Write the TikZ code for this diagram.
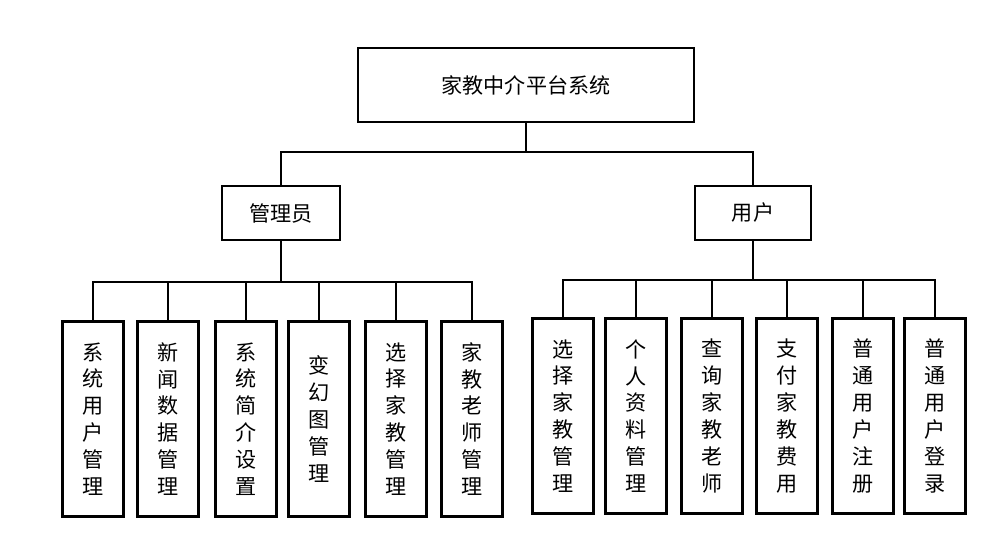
\documentclass[tikz,border=0pt]{standalone}
\usepackage{fontspec}
\newfontfamily\cjk{Noto Sans CJK SC}
\usetikzlibrary{positioning}
\begin{document}
\begin{tikzpicture}[
		x=0.02cm, y=-0.02cm,
		every node/.style={font=\cjk\fontsize{12}{15.3}\selectfont, align=center},
		box/.style={draw, line width=1.6pt, inner sep=0pt},
		leaf/.style={box, minimum width=1.22cm, minimum height=3.9cm},
		link/.style={line width=1.6pt}
		]
		\useasboundingbox (0,0) rectangle (1000,536);
		
		% Nodes
		\node[box, minimum width=6.72cm, minimum height=1.48cm] (root) at (526,85) {家教中介平台系统};
		\node[box, minimum width=2.36cm, minimum height=1.08cm] (admin) at (281,213) {管理员};
		\node[box, minimum width=2.32cm, minimum height=1.08cm] (user) at (753,213) {用户};
		
		\node[leaf] (a1) at (93,419) {系\\统\\用\\户\\管\\理};
		\node[leaf] (a2) at (168,419) {新\\闻\\数\\据\\管\\理};
		\node[leaf] (a3) at (246,419) {系\\统\\简\\介\\设\\置};
		\node[leaf] (a4) at (319,419) {变\\幻\\图\\管\\理};
		\node[leaf] (a5) at (396,419) {选\\择\\家\\教\\管\\理};
		\node[leaf] (a6) at (472,419) {家\\教\\老\\师\\管\\理};
		
		\node[leaf] (u1) at (563,416) {选\\择\\家\\教\\管\\理};
		\node[leaf] (u2) at (636,416) {个\\人\\资\\料\\管\\理};
		\node[leaf] (u3) at (712,416) {查\\询\\家\\教\\老\\师};
		\node[leaf] (u4) at (787,416) {支\\付\\家\\教\\费\\用};
		\node[leaf] (u5) at (863,416) {普\\通\\用\\户\\注\\册};
		\node[leaf] (u6) at (935,416) {普\\通\\用\\户\\登\\录};
		
		\coordinate (busTop) at (526,152);
		\coordinate (busL) at (281,282);
		\coordinate (busR) at (753,280);
		
		% Connectors
		\draw[link] (root) -- (busTop);
		\draw[link] (admin.north) |- (busTop) -| (user.north);
		\draw[link] (admin) -- (busL);
		\draw[link] (user) -- (busR);
		\foreach \n in {a1,a2,a3,a4,a5,a6}
			\draw[link] (busL) -| (\n.north);
		\foreach \n in {u1,u2,u3,u4,u5,u6}
			\draw[link] (busR) -| (\n.north);
		
	\end{tikzpicture}
\end{document}
